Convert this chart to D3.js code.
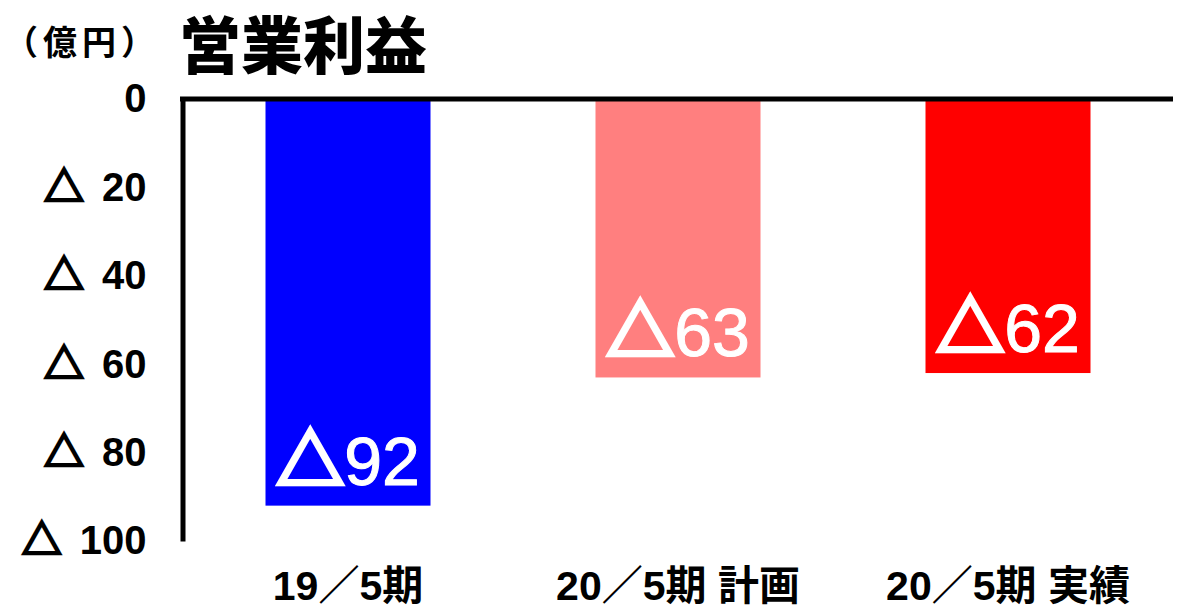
<!DOCTYPE html>
<html>
<head>
<meta charset="utf-8">
<script src="https://cdn.jsdelivr.net/npm/d3@7"></script>
<style>
  body { margin: 0; background: #fff; }
  text { font-family: "Liberation Sans", "Noto Sans CJK JP", sans-serif; }
</style>
</head>
<body>
<svg width="1183" height="613"></svg>
<script>
var svg = d3.select("svg"),
    width = +svg.attr("width"),
    height = +svg.attr("height");

// data (loss in 億円, shown as △)
var categories = ["19／5期", "20／5期 計画", "20／5期 実績"];
var values = [92, 63, 62];
var colors = ["#0000ff", "#ff7f7f", "#ff0000"];
var ticks = [0, 20, 40, 60, 80, 100];

var cjk = "'Noto Sans CJK JP', sans-serif";

var x = d3.scaleBand()
    .domain(categories)
    .range([183, 1173])
    .paddingInner(0.5)
    .paddingOuter(0.25);

var y = d3.scaleLinear()
    .domain([0, 100])
    .range([99, 541]);

// bars hang down from zero
svg.append("g")
  .selectAll("rect")
  .data(values)
  .enter().append("rect")
    .attr("x", function(d, i) { return x(categories[i]); })
    .attr("y", y(0))
    .attr("width", x.bandwidth())
    .attr("height", function(d) { return y(d) - y(0); })
    .attr("fill", function(d, i) { return colors[i]; });

// value labels inside the bar end
var vl = svg.append("g")
  .selectAll("text")
  .data(values)
  .enter().append("text")
    .attr("x", function(d, i) { return x(categories[i]) + x.bandwidth() / 2; })
    .attr("y", function(d) { return y(d) - 21; })
    .attr("text-anchor", "middle")
    .attr("fill", "#fff");
vl.append("tspan")
    .style("font-family", cjk)
    .attr("font-weight", 900)
    .attr("font-size", 68)
    .attr("stroke", "#fff")
    .attr("stroke-width", 4)
    .text("△");
vl.append("tspan")
    .attr("font-size", 68)
    .attr("stroke", "#fff")
    .attr("stroke-width", 1)
    .text(function(d) { return d; });

// y axis
var yAxis = d3.axisLeft(y)
    .tickValues(ticks)
    .tickSize(0)
    .tickPadding(36)
    .tickFormat(function(d) { return d; });

var gy = svg.append("g")
    .attr("transform", "translate(182.5,0)")
    .call(yAxis);
gy.select(".domain").attr("stroke", "#000").attr("stroke-width", 5);
gy.selectAll(".tick text").each(function(d) {
  var t = d3.select(this)
      .text(null)
      .attr("fill", "#000")
      .attr("font-size", 40)
      .attr("font-family", null);
  if (d !== 0) {
    t.append("tspan")
        .style("font-family", cjk)
        .attr("font-weight", 900)
        .attr("font-size", 40)
        .attr("stroke", "#000")
        .attr("stroke-width", 2.4)
        .text("△");
  }
  t.append("tspan")
      .attr("font-weight", "bold")
      .attr("dx", d !== 0 ? 18 : 0)
      .text(d);
});

// zero line across the top
svg.append("line")
    .attr("x1", 180)
    .attr("x2", 1173)
    .attr("y1", y(0))
    .attr("y2", y(0))
    .attr("stroke", "#000")
    .attr("stroke-width", 5);

// category labels
svg.append("g")
  .selectAll("text")
  .data(categories)
  .enter().append("text")
    .attr("x", function(d) { return x(d) + x.bandwidth() / 2; })
    .attr("y", 600)
    .attr("text-anchor", "middle")
    .attr("font-size", 41)
    .attr("font-weight", "bold")
    .text(function(d) { return d; });

// title + unit
svg.append("text")
    .attr("x", 179)
    .attr("y", 69)
    .attr("font-size", 62)
    .attr("font-weight", 900)
    .style("font-family", cjk)
    .text("営業利益");

svg.append("text")
    .attr("x", 4)
    .attr("y", 55)
    .attr("font-size", 34)
    .attr("font-weight", "bold")
    .attr("letter-spacing", 5)
    .style("font-family", cjk)
    .text("（億円）");
</script>
</body>
</html>
